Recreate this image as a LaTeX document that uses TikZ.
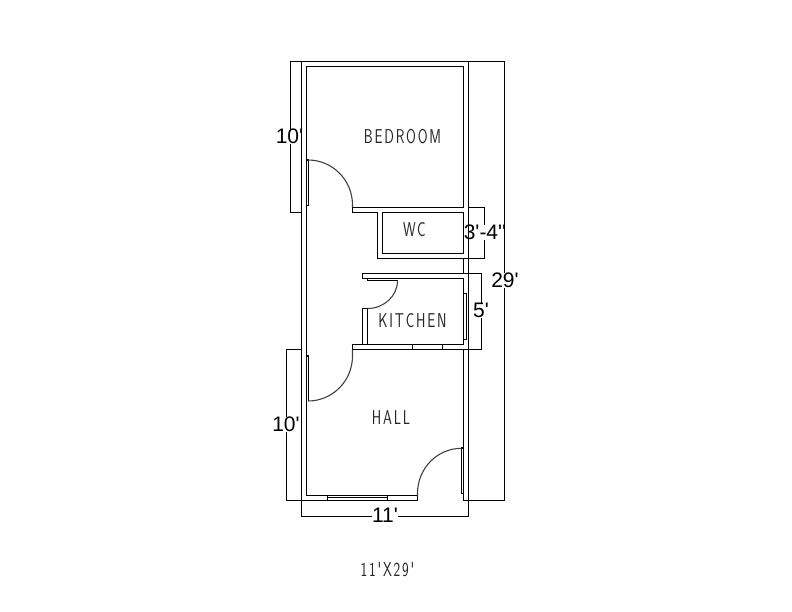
\documentclass[tikz,border=0pt]{standalone}
\usepackage{fontspec}
\setmainfont[Ligatures=TeXOff]{Liberation Sans}
\setsansfont[Ligatures=TeXOff,FakeStretch=0.71,LetterSpace=9]{Latin Modern Sans}
\usepackage{xcolor}
\usepackage{tikz}
\tikzset{
	wall/.style={line width=1.5pt,black},
	doorarc/.style={line width=1.1pt,black!75},
	dimlabel/.style={font=\fontsize{21}{21}\selectfont,inner sep=0pt},
	roomlabel/.style={font=\sffamily\fontsize{20}{20}\selectfont,inner sep=0pt,black!85},
}
\begin{document}
\begin{tikzpicture}[x=1pt,y=-1pt]
		\useasboundingbox (0,0) rectangle (792,612);
		% outer and inner long walls
		\draw[wall] (301.5,61.5)--(301.5,516.5)--(371.7,516.5);
		\draw[wall] (468.5,61.5)--(468.5,516.5)--(398.3,516.5);
		\draw[wall] (306.5,66.5)--(463.5,66.5)--(463.5,207.5)--(352.5,207.5)--(352.5,212.5)--(377.5,212.5)--(377.5,258.5)--(463.5,258.5)--(463.5,273.5);
		\draw[wall] (306.5,66.5)--(306.5,495.5)--(417.5,495.5)--(417.5,500.5);
		% wc
		\draw[wall] (382.5,212.5) rectangle (463.5,253.5);
		% kitchen
		\draw[wall] (362.5,273.5)--(468.5,273.5);
		\draw[wall] (362.5,273.5)--(362.5,278.5)--(463.5,278.5)--(463.5,344.5)--(352.5,344.5)--(352.5,349.5)--(463.5,349.5)--(463.5,500.5);
		\draw[wall] (367.5,278.5)--(367.5,280.5)--(397.5,280.5);
		\draw[wall] (362.5,344.5)--(362.5,308.5)--(367.5,308.5)--(367.5,344.5);
		\draw[wall] (412.5,344.5)--(412.5,349.5);
		\draw[wall] (442.5,344.5)--(442.5,349.5);
		\draw[wall] (463.5,293.5)--(466.5,293.5)--(466.5,339.5)--(463.5,339.5);
		% hall window
		\draw[wall] (327.5,495.5)--(327.5,500.5);
		\draw[wall] (387.5,495.5)--(387.5,500.5);
		\draw[line width=1pt] (327.5,497.8)--(387.5,497.8);
		% door leaves
		\draw[wall] (306.5,159.8)--(308.5,159.8)--(308.5,205.3)--(306.5,205.3);
		\draw[wall] (306.5,356)--(308.5,356)--(308.5,401.3);
		\draw[wall] (463.5,448)--(461.5,448)--(461.5,493.3)--(463.5,493.3);
		% door swings
		\draw[doorarc] (308,160) arc (-90:0:44.5 and 45)--(352.5,207.5);
		\draw[doorarc] (352.5,349.5)--(352.5,356) arc (0:90:44.5 and 45);
		\draw[doorarc] (397.5,280.5) arc (0:90:30 and 28);
		\draw[doorarc] (461.5,448.3) arc (-90:-180:44 and 45)--(417.5,495.5);
		% dimension lines
		\draw[wall] (290.5,129)--(290.5,61.5)--(504.5,61.5)--(504.5,273);
		\draw[wall] (290.5,144)--(290.5,212.5)--(301.5,212.5);
		\draw[wall] (301.5,349.5)--(286.5,349.5)--(286.5,417);
		\draw[wall] (286.5,432)--(286.5,500.5)--(417.5,500.5);
		\draw[wall] (504.5,288)--(504.5,500.5)--(463.5,500.5);
		\draw[wall] (468.5,207.5)--(484.5,207.5)--(484.5,225);
		\draw[wall] (484.5,240)--(484.5,258.5)--(463.5,258.5);
		\draw[wall] (468.5,273.5)--(481.5,273.5)--(481.5,303);
		\draw[wall] (481.5,318)--(481.5,349.5)--(463.5,349.5);
		% dimensions
		\node[dimlabel] (dimbed) at (289.5,136.5) {10'};
		\node[dimlabel] (dimhall) at (286,424.5) {10'};
		\node[dimlabel] (dimwc) at (485,232.5) {3'-4''};
		\node[dimlabel] (dimlong) at (505,280.5) {29'};
		\node[dimlabel] (dimkit) at (481,310.5) {5'};
		\node[dimlabel] (dimwide) at (385,515.5) {11'};
		% rooms
		\node[roomlabel] (bedroom) at (402.5,137) {BEDROOM};
		\node[roomlabel] (wc) at (414.5,230) {WC};
		\node[roomlabel] (kitchen) at (412.5,320.5) {KITCHEN};
		\node[roomlabel] (hall) at (391,418) {HALL};
		\node[roomlabel] (size) at (387.5,569.5) {11'X29'};
	\end{tikzpicture}
\end{document}
